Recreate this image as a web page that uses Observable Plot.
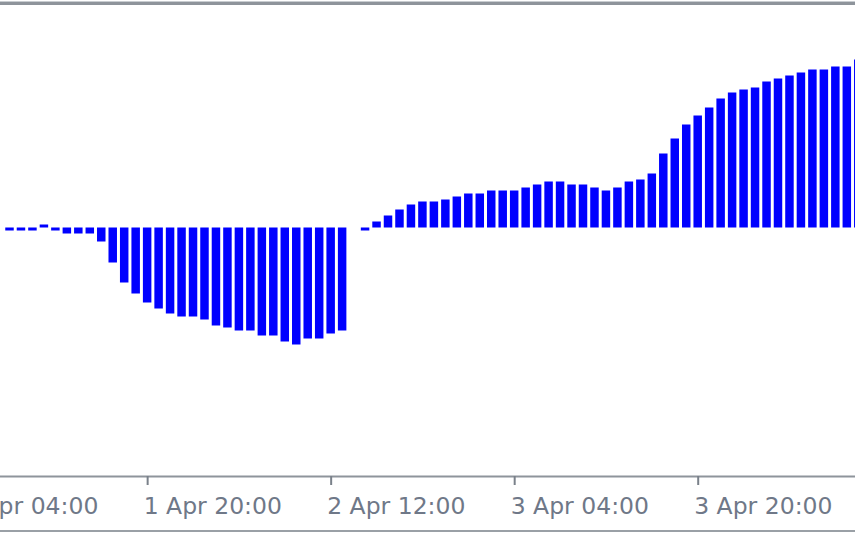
<!DOCTYPE html>
<html>
<head>
<meta charset="utf-8">
<script src="https://cdn.jsdelivr.net/npm/d3@7"></script>
<script src="https://cdn.jsdelivr.net/npm/@observablehq/plot@0.6"></script>
<style>
  html, body { margin: 0; padding: 0; background: #ffffff; }
  #wrap { padding-top: 1px; width: 855px; }
  #inner { border-top: 1px solid #c9cdd1; }
  #inner svg { display: block; border-top: 3px solid #8e949b; border-bottom: 2px solid #9aa0a6; }
</style>
</head>
<body>
<div id="wrap"><div id="inner"></div></div>
<script>
// ---- data ----
const startTime = "2024-04-01T08:00Z";   // time of the first bar, bars are hourly
const values = [
  -0.03, -0.03, -0.03, 0.03, -0.03, -0.06, -0.06, -0.06, -0.14, -0.35,
  -0.55, -0.66, -0.75, -0.81, -0.86, -0.89, -0.89, -0.92, -0.98, -1.00,
  -1.03, -1.03, -1.08, -1.08, -1.14, -1.17, -1.11, -1.11, -1.06, -1.03,
  null, -0.03, 0.06, 0.12, 0.18, 0.23, 0.26, 0.26, 0.28, 0.31,
  0.34, 0.34, 0.37, 0.37, 0.37, 0.40, 0.43, 0.46, 0.46, 0.43,
  0.43, 0.40, 0.37, 0.40, 0.46, 0.48, 0.54, 0.74, 0.89, 1.03,
  1.12, 1.20, 1.29, 1.35, 1.38, 1.40, 1.46, 1.49, 1.52, 1.55,
  1.58, 1.58, 1.61, 1.61, 1.68
];
const tickTimes = [
  "2024-04-01T04:00Z", "2024-04-01T20:00Z", "2024-04-02T12:00Z",
  "2024-04-03T04:00Z", "2024-04-03T20:00Z"
];
const yDomain = [-2.485, 2.225];

// ---- build table ----
const HOUR = 3600e3;
const t0 = new Date(startTime);
const data = values.map((v, i) => ({ time: new Date(+t0 + i * HOUR), value: v }));
const ticks = tickTimes.map(s => new Date(s));
const xDomain = [new Date(+t0 - 0.8283 * HOUR), new Date(+t0 + 73.714 * HOUR)];
const fmt = d3.utcFormat("%-d %b %H:%M");
const halfBar = 0.37 * HOUR;

const chart = Plot.plot({
  width: 855,
  height: 525,
  marginTop: 0,
  marginBottom: 54,
  marginLeft: 0,
  marginRight: 0,
  style: { fontFamily: "DejaVu Sans", background: "#ffffff", overflow: "hidden" },
  x: { type: "utc", domain: xDomain, axis: null },
  y: { domain: yDomain, axis: null },
  marks: [
    Plot.rectY(data, {
      filter: d => d.value != null,
      x1: d => new Date(+d.time - halfBar),
      x2: d => new Date(+d.time + halfBar),
      y: "value",
      fill: "#0000ff"
    }),
    Plot.ruleY([yDomain[0]], { stroke: "#8e949b", strokeWidth: 2 }),
    // tick marks
    Plot.axisX({
      ticks: ticks,
      tickFormat: () => "",
      tickSize: 9,
      stroke: "#7a818a",
      strokeWidth: 2
    }),
    // tick labels, starting at the tick
    Plot.axisX({
      ticks: ticks,
      tickFormat: fmt,
      tickSize: 0,
      tickPadding: 20.7,
      textAnchor: "start",
      dx: -4,
      fontSize: 23.5,
      fill: "#6f7888"
    })
  ]
});
document.getElementById("inner").appendChild(chart);
</script>
</body>
</html>
